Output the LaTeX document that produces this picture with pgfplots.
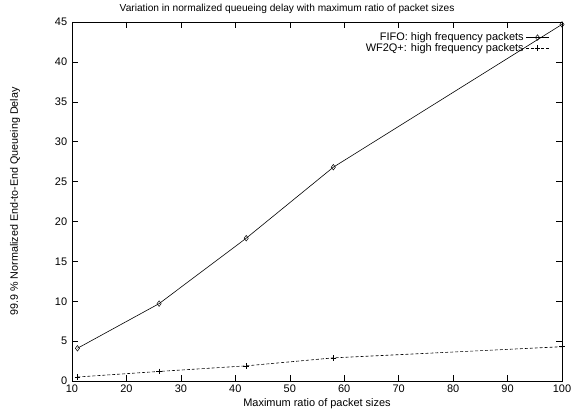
\documentclass[border=0pt]{standalone}
\usepackage{pgfplots}
\pgfplotsset{compat=1.18}
\usepackage{fontspec}
\setmainfont{Liberation Sans}
\begin{document}
\fontsize{11}{13}\selectfont
\begin{tikzpicture}
\begin{axis}[
  scale only axis,
  width=490bp, height=359bp,
  xmin=10, xmax=100, ymin=0, ymax=45,
  xtick={10,20,...,100}, ytick={0,5,...,45},
  tick align=inside, major tick length=6bp,
  tick style={black, line width=0.5pt},
  axis line style={line width=0.8pt},
  /pgf/number format/assume math mode=true,
  ticklabel style={font=\fontsize{11}{13}\selectfont},
  yticklabel style={xshift=-1bp},
  title={Variation in normalized queueing delay with maximum ratio of packet sizes},
  title style={at={(axis description cs:0.439,1.036)}, anchor=center, yshift=-6pt, font=\fontsize{10.2}{12}\selectfont},
  xlabel={Maximum ratio of packet sizes},
  xlabel style={at={(axis description cs:0.5,-0.064)}, anchor=center, font=\fontsize{11}{13}\selectfont},
  ylabel={99.9 \% Normalized End-to-End Queueing Delay},
  ylabel style={at={(axis description cs:-0.116,0.5)}, anchor=center, font=\fontsize{10.8}{13}\selectfont},
  legend style={draw=none, fill=none, at={(axis description cs:0.9755,0.972)}, anchor=north east,
    font=\fontsize{11}{12}\selectfont, row sep=0bp, inner sep=0bp,
    nodes={inner sep=0.5bp}, column sep=2bp},
  legend cell align=right,
  legend plot pos=right,
  legend image code/.code={
    \draw[mark repeat=2,mark phase=2] plot coordinates {(0bp,0bp)(11bp,0bp)(23bp,0bp)};
  },
]
\addplot[black, line width=0.6pt, mark=diamond, mark size=2.8pt, mark options={solid, line width=0.5pt}]
  coordinates {(11,4.1) (26,9.7) (42,17.9) (58,26.8) (100,44.7)};
\addlegendentry{FIFO: high frequency packets}
\addplot[black, line width=0.6pt, densely dashed, mark=+, mark size=2.8pt, mark options={solid, line width=0.5pt}]
  coordinates {(11,0.5) (26,1.2) (42,1.9) (58,2.9) (100,4.3)};
\addlegendentry{WF2Q+: high frequency packets}
\coordinate (ll) at (rel axis cs:0,0);
\coordinate (ur) at (rel axis cs:1,1);
\end{axis}
\pgfresetboundingbox
\path ([shift={(-72bp,-32bp)}]ll) rectangle ([shift={(11bp,22bp)}]ur);
\end{tikzpicture}
\end{document}
